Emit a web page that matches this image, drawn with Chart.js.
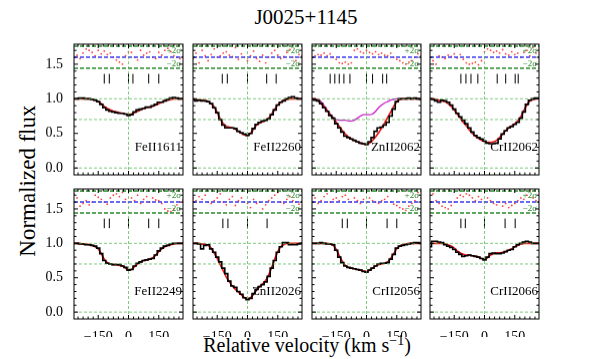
<!DOCTYPE html>
<html>
<head>
<meta charset="utf-8">
<script src="https://cdn.jsdelivr.net/npm/chart.js@4/dist/chart.umd.min.js"></script>
<style>
body { margin: 0; background: #fff; width: 598px; height: 359px; position: relative; overflow: hidden; font-family: "Liberation Serif", "Times New Roman", serif; }
canvas { position: absolute; }
.lbl { position: absolute; color: #000; white-space: nowrap; }
</style>
</head>
<body>
<div class="lbl" style="left:206px; width:200px; top:5px; text-align:center; font-size:21px;">J0025+1145</div>
<div class="lbl" style="left:28px; top:181px; font-size:23px; transform:translate(-50%,-50%) rotate(-90deg);">Normalized flux</div>
<div class="lbl" style="left:307px; top:345px; font-size:20px; transform:translate(-50%,-50%);">Relative velocity (km s<sup style="font-size:14px">&minus;1</sup>)</div>

<script>
// velocity grid (km/s)
const vel = [-270, -255, -240, -225, -210, -195, -180, -165, -150, -135, -120, -105, -90, -75, -60, -45, -30, -15, 0,
             15, 30, 45, 60, 75, 90, 105, 120, 135, 150, 165, 180, 195, 210, 225, 240, 255, 270];

const names = ['FeII1611', 'FeII2260', 'ZnII2062', 'CrII2062', 'FeII2249', 'ZnII2026', 'CrII2056', 'CrII2066'];

// observed normalized flux
const flux1 = [1.0, 1.0, 1.01, 1.01, 1.0, 1.0, 0.99, 0.98, 0.96, 0.92, 0.87, 0.84, 0.82, 0.81, 0.80, 0.79, 0.79, 0.78, 0.76,
               0.77, 0.81, 0.84, 0.85, 0.86, 0.88, 0.88, 0.90, 0.92, 0.95, 0.95, 0.97, 0.99, 1.01, 1.02, 1.01, 1.0, 1.0];
const flux2 = [0.99, 0.97, 0.98, 0.97, 0.97, 0.96, 0.93, 0.87, 0.80, 0.70, 0.62, 0.58, 0.58, 0.58, 0.57, 0.53, 0.51, 0.49, 0.47,
               0.50, 0.57, 0.63, 0.66, 0.68, 0.69, 0.71, 0.77, 0.84, 0.91, 0.95, 0.97, 1.0, 1.02, 1.03, 1.01, 1.0, 1.0];
const flux3 = [0.99, 0.98, 0.97, 0.93, 0.87, 0.82, 0.76, 0.72, 0.64, 0.58, 0.52, 0.46, 0.44, 0.42, 0.40, 0.38, 0.36, 0.35, 0.34,
               0.38, 0.44, 0.53, 0.58, 0.59, 0.62, 0.66, 0.75, 0.85, 0.96, 1.0, 1.0, 1.0, 1.01, 1.0, 1.01, 1.0, 0.99];
const flux4 = [1.0, 0.99, 0.97, 0.95, 0.98, 0.97, 0.95, 0.91, 0.85, 0.79, 0.74, 0.69, 0.64, 0.58, 0.52, 0.47, 0.44, 0.42, 0.39,
               0.36, 0.35, 0.35, 0.36, 0.42, 0.49, 0.54, 0.58, 0.60, 0.63, 0.66, 0.72, 0.81, 0.92, 0.98, 1.0, 1.01, 1.01];
const flux5 = [1.0, 1.0, 0.99, 0.99, 0.98, 0.98, 0.97, 0.96, 0.93, 0.85, 0.75, 0.71, 0.70, 0.69, 0.69, 0.69, 0.67, 0.65, 0.61,
               0.62, 0.67, 0.71, 0.73, 0.75, 0.76, 0.77, 0.78, 0.83, 0.89, 0.93, 0.96, 0.97, 0.99, 1.0, 1.0, 1.0, 1.0];
const flux6 = [1.0, 1.0, 0.99, 0.92, 0.97, 0.98, 0.92, 0.87, 0.80, 0.73, 0.64, 0.56, 0.45, 0.38, 0.36, 0.30, 0.26, 0.21, 0.18,
               0.20, 0.27, 0.33, 0.37, 0.40, 0.44, 0.52, 0.64, 0.75, 0.87, 0.95, 1.01, 1.01, 0.98, 0.98, 0.98, 0.99, 1.0];
const flux7 = [1.0, 1.0, 1.0, 1.01, 1.0, 0.99, 0.99, 0.98, 0.90, 0.80, 0.72, 0.67, 0.65, 0.64, 0.63, 0.62, 0.61, 0.59, 0.58,
               0.61, 0.64, 0.67, 0.70, 0.71, 0.71, 0.72, 0.77, 0.84, 0.93, 0.96, 0.97, 0.98, 0.99, 1.0, 1.01, 1.01, 1.0];
const flux8 = [0.95, 1.03, 1.03, 1.02, 1.01, 0.98, 0.96, 0.94, 0.91, 0.87, 0.84, 0.81, 0.82, 0.83, 0.82, 0.81, 0.80, 0.78, 0.76,
               0.80, 0.85, 0.86, 0.85, 0.85, 0.86, 0.88, 0.90, 0.91, 0.95, 0.98, 1.0, 1.02, 1.03, 1.02, 1.0, 1.0, 1.0];

// fitted profiles
const model1 = [1.0, 1.0, 1.0, 1.0, 1.0, 1.0, 0.99, 0.98, 0.96, 0.93, 0.89, 0.86, 0.84, 0.82, 0.81, 0.80, 0.79, 0.78, 0.775,
                0.78, 0.80, 0.82, 0.84, 0.86, 0.87, 0.88, 0.89, 0.91, 0.93, 0.95, 0.97, 0.98, 0.99, 1.0, 1.0, 1.0, 1.0];
const model2 = [1.0, 0.99, 0.98, 0.98, 0.97, 0.96, 0.93, 0.88, 0.80, 0.71, 0.64, 0.60, 0.59, 0.58, 0.56, 0.53, 0.50, 0.48, 0.47,
                0.50, 0.56, 0.62, 0.65, 0.67, 0.69, 0.72, 0.78, 0.85, 0.91, 0.95, 0.98, 0.99, 1.0, 1.0, 1.0, 1.0, 1.0];
const model3 = [1.0, 1.0, 0.97, 0.93, 0.88, 0.83, 0.77, 0.72, 0.66, 0.60, 0.54, 0.49, 0.45, 0.42, 0.40, 0.38, 0.36, 0.35, 0.34,
                0.36, 0.40, 0.45, 0.51, 0.58, 0.65, 0.73, 0.81, 0.89, 0.96, 0.99, 1.0, 1.0, 1.0, 1.0, 1.0, 1.0, 1.0];
const model4 = [1.0, 1.0, 0.99, 0.98, 0.97, 0.96, 0.93, 0.89, 0.84, 0.78, 0.72, 0.66, 0.61, 0.55, 0.50, 0.46, 0.43, 0.40, 0.38,
                0.37, 0.37, 0.38, 0.40, 0.44, 0.49, 0.54, 0.58, 0.61, 0.64, 0.68, 0.74, 0.83, 0.91, 0.97, 0.99, 1.0, 1.0];
const model5 = [1.0, 1.0, 1.0, 0.99, 0.99, 0.98, 0.97, 0.95, 0.92, 0.85, 0.77, 0.72, 0.70, 0.69, 0.69, 0.68, 0.67, 0.64, 0.61,
                0.62, 0.66, 0.70, 0.73, 0.75, 0.76, 0.77, 0.79, 0.83, 0.88, 0.92, 0.95, 0.97, 0.98, 0.99, 1.0, 1.0, 1.0];
const model6 = [1.0, 1.0, 1.0, 0.99, 0.99, 0.97, 0.93, 0.86, 0.78, 0.69, 0.60, 0.51, 0.44, 0.38, 0.33, 0.29, 0.25, 0.21, 0.19,
                0.21, 0.26, 0.32, 0.37, 0.41, 0.46, 0.54, 0.65, 0.77, 0.88, 0.95, 0.98, 1.0, 1.0, 1.0, 1.0, 1.0, 1.0];
const model7 = [1.0, 1.0, 1.0, 1.0, 1.0, 1.0, 0.99, 0.97, 0.91, 0.82, 0.74, 0.68, 0.65, 0.64, 0.63, 0.62, 0.61, 0.60, 0.59,
                0.61, 0.64, 0.67, 0.69, 0.70, 0.71, 0.73, 0.78, 0.85, 0.92, 0.96, 0.98, 0.99, 1.0, 1.0, 1.0, 1.0, 1.0];
const model8 = [1.0, 1.0, 1.0, 1.0, 1.0, 0.99, 0.98, 0.96, 0.93, 0.89, 0.86, 0.84, 0.83, 0.83, 0.82, 0.81, 0.80, 0.78, 0.77,
                0.79, 0.83, 0.85, 0.86, 0.86, 0.87, 0.88, 0.90, 0.92, 0.95, 0.97, 0.99, 1.0, 1.0, 1.0, 1.0, 1.0, 1.0];
// ZnII-only contribution in the ZnII2062 panel
const znOnly3 = [1.0, 1.0, 0.99, 0.96, 0.90, 0.84, 0.78, 0.73, 0.70, 0.69, 0.69, 0.69, 0.68, 0.68, 0.69, 0.72, 0.75, 0.77, 0.77,
                 0.77, 0.78, 0.82, 0.87, 0.91, 0.94, 0.96, 0.98, 0.99, 1.0, 1.0, 1.0, 1.0, 1.0, 1.0, 1.0, 1.0, 1.0];

// residuals, plotted around 1.6
const resid1 = [1.60, 1.63, 1.58, 1.66, 1.72, 1.70, 1.67, 1.62, 1.70, 1.65, 1.69, 1.64, 1.66, 1.60, 1.56, 1.53, 1.50, 1.62, 1.68,
                1.67, 1.60, 1.56, 1.70, 1.63, 1.66, 1.68, 1.60, 1.58, 1.67, 1.63, 1.70, 1.73, 1.68, 1.62, 1.60, 1.58, 1.61];
const resid2 = [1.58, 1.66, 1.52, 1.70, 1.62, 1.55, 1.64, 1.72, 1.60, 1.62, 1.66, 1.68, 1.63, 1.61, 1.74, 1.57, 1.65, 1.60, 1.55,
                1.62, 1.69, 1.58, 1.54, 1.63, 1.52, 1.60, 1.66, 1.70, 1.63, 1.58, 1.61, 1.67, 1.71, 1.60, 1.55, 1.64, 1.62];
const resid3 = [1.60, 1.62, 1.64, 1.63, 1.66, 1.62, 1.65, 1.60, 1.57, 1.52, 1.51, 1.53, 1.50, 1.52, 1.70, 1.72, 1.68, 1.66, 1.70,
                1.67, 1.65, 1.68, 1.64, 1.66, 1.63, 1.62, 1.66, 1.60, 1.57, 1.55, 1.52, 1.50, 1.53, 1.55, 1.60, 1.65, 1.62];
const resid4 = [1.60, 1.55, 1.50, 1.62, 1.60, 1.58, 1.63, 1.61, 1.65, 1.59, 1.64, 1.57, 1.52, 1.50, 1.51, 1.53, 1.49, 1.55, 1.68,
                1.72, 1.70, 1.67, 1.69, 1.66, 1.71, 1.65, 1.63, 1.68, 1.64, 1.66, 1.60, 1.67, 1.70, 1.62, 1.74, 1.66, 1.60];
const resid5 = [1.72, 1.66, 1.54, 1.58, 1.62, 1.56, 1.60, 1.70, 1.67, 1.64, 1.60, 1.57, 1.66, 1.70, 1.72, 1.68, 1.74, 1.64, 1.60,
                1.66, 1.62, 1.70, 1.58, 1.64, 1.68, 1.60, 1.66, 1.63, 1.62, 1.58, 1.50, 1.47, 1.46, 1.50, 1.56, 1.60, 1.63];
const resid6 = [1.66, 1.62, 1.68, 1.64, 1.70, 1.60, 1.58, 1.62, 1.66, 1.72, 1.60, 1.56, 1.64, 1.68, 1.55, 1.62, 1.66, 1.60, 1.58,
                1.52, 1.64, 1.58, 1.60, 1.50, 1.56, 1.62, 1.66, 1.70, 1.74, 1.60, 1.58, 1.64, 1.68, 1.62, 1.60, 1.57, 1.61];
const resid7 = [1.70, 1.66, 1.58, 1.62, 1.68, 1.72, 1.60, 1.64, 1.66, 1.62, 1.68, 1.70, 1.64, 1.60, 1.66, 1.62, 1.58, 1.64, 1.60,
                1.66, 1.62, 1.60, 1.58, 1.62, 1.64, 1.68, 1.60, 1.57, 1.55, 1.52, 1.50, 1.48, 1.54, 1.58, 1.62, 1.74, 1.66];
const resid8 = [1.60, 1.72, 1.62, 1.58, 1.54, 1.52, 1.50, 1.55, 1.60, 1.66, 1.70, 1.68, 1.72, 1.70, 1.66, 1.62, 1.68, 1.64, 1.60,
                1.66, 1.62, 1.58, 1.56, 1.60, 1.54, 1.58, 1.52, 1.55, 1.58, 1.62, 1.66, 1.64, 1.70, 1.76, 1.66, 1.62, 1.60];

// component velocities (tick marks)
const marks1 = [-120, -95, 0, 22, 100, 150];
const marks2 = [-125, -100, 0, 95, 142];
const marks3 = [-180, -157, -135, -112, -82, 0, 30, 80, 100];
const marks4 = [-117, -92, -67, -33, 63, 105, 152, 167];
const marks5 = [-120, -95, 0, 100, 150];
const marks6 = [-122, -97, 0, 97];
const marks7 = [-120, -95, 0, 102, 150];
const marks8 = [-117, -95, 0, 102, 152];

// axis ticks
const xTickLabels = [-150, 0, 150];
const yTickLabels = [0, 0.5, 1.0, 1.5];
const xMinor = [-250, -225, -200, -175, -150, -125, -100, -75, -50, -25, 0, 25, 50, 75, 100, 125, 150, 175, 200, 225, 250];
const yMinor = [0, 0.1, 0.2, 0.3, 0.4, 0.5, 0.6, 0.7, 0.8, 0.9, 1.0, 1.1, 1.2, 1.3, 1.4, 1.5, 1.6, 1.7];

// reference levels
const thinLevels = [0, 0.7, 1.0];
const sigmaLevels = [1.44, 1.76];
const residZero = 1.6;
const markLevel = 1.29;

const allFlux = [flux1, flux2, flux3, flux4, flux5, flux6, flux7, flux8];
const allModel = [model1, model2, model3, model4, model5, model6, model7, model8];
const allResid = [resid1, resid2, resid3, resid4, resid5, resid6, resid7, resid8];
const allMarks = [marks1, marks2, marks3, marks4, marks5, marks6, marks7, marks8];

const X_MIN = -270, X_MAX = 270, Y_MIN = -0.1, Y_MAX = 1.79;
const colLeft = [74, 192.8, 311.6, 430.4];
const rowTop = [44, 188.5];
const plotW = 109, plotH = 130.5, pad = 12, yAxisW = 30, xAxisH = 18;

const serif = '"Liberation Serif", "Times New Roman", serif';

// frame, inward ticks and in-panel texts
const framePlugin = {
    id: 'frame',
    afterDatasetsDraw(chart, args, opts) {
        const ctx = chart.ctx;
        const a = chart.chartArea;
        const x = chart.scales.x, y = chart.scales.y;
        ctx.save();
        ctx.fillStyle = '#2a8a2a';
        ctx.font = '9px ' + serif;
        ctx.textAlign = 'right';
        ctx.textBaseline = 'middle';
        ctx.fillText('+2\u03c3', a.right - 2, y.getPixelForValue(1.70));
        ctx.fillText('\u22122\u03c3', a.right - 2, y.getPixelForValue(1.50));
        ctx.fillStyle = '#000';
        ctx.font = '13px ' + serif;
        ctx.fillText(opts.name, a.right - 1, y.getPixelForValue(0.30));

        ctx.strokeStyle = '#000';
        ctx.lineWidth = 1;
        ctx.strokeRect(a.left, a.top, a.right - a.left, a.bottom - a.top);
        ctx.beginPath();
        xMinor.forEach(v => {
            const px = x.getPixelForValue(v);
            const len = (v % 150 === 0) ? 4 : 2.5;
            ctx.moveTo(px, a.bottom); ctx.lineTo(px, a.bottom - len);
            ctx.moveTo(px, a.top); ctx.lineTo(px, a.top + len);
        });
        yMinor.forEach(v => {
            const py = y.getPixelForValue(v);
            const len = (Math.round(v * 10) % 5 === 0) ? 4 : 2.5;
            ctx.moveTo(a.left, py); ctx.lineTo(a.left + len, py);
            ctx.moveTo(a.right, py); ctx.lineTo(a.right - len, py);
        });
        ctx.stroke();
        ctx.restore();
    }
};

function hLine(level, color, width, dash) {
    return {
        data: [{ x: X_MIN, y: level }, { x: X_MAX, y: level }],
        borderColor: color, borderWidth: width, borderDash: dash, pointRadius: 0
    };
}

function makePanel(i) {
    const col = i % 4, row = Math.floor(i / 4);
    const leftCol = col === 0, bottomRow = row === 1;
    const yW = leftCol ? yAxisW : 0;
    const xH = bottomRow ? xAxisH : 0;

    const canvas = document.createElement('canvas');
    const w = plotW + 2 * pad + yW, h = plotH + 2 * pad + xH;
    canvas.width = w; canvas.height = h;
    canvas.style.width = w + 'px'; canvas.style.height = h + 'px';
    canvas.style.left = (colLeft[col] - pad - yW) + 'px';
    canvas.style.top = (rowTop[row] - pad) + 'px';
    document.body.appendChild(canvas);

    const datasets = [];
    thinLevels.forEach(l => datasets.push(hLine(l, 'rgba(70,175,70,0.85)', 0.8, [3, 2])));
    datasets.push({
        data: [{ x: 0, y: Y_MIN }, { x: 0, y: Y_MAX }],
        borderColor: 'rgba(70,175,70,0.85)', borderWidth: 0.8, borderDash: [3, 2], pointRadius: 0
    });
    sigmaLevels.forEach(l => datasets.push(hLine(l, '#2a8a2a', 1.5, [4, 2])));
    datasets.push(hLine(residZero, '#3a3af0', 1.5, [4, 2]));

    datasets.push({
        data: vel.map((v, k) => ({ x: v, y: allResid[i][k] })),
        showLine: false, pointRadius: 0.9, pointBorderWidth: 0,
        pointBackgroundColor: 'rgba(255,50,50,0.9)', borderColor: 'rgba(255,50,50,0.9)'
    });
    datasets.push({
        data: allMarks[i].map(v => ({ x: v, y: markLevel })),
        showLine: false, pointStyle: 'line', rotation: 90, pointRadius: 4.8,
        pointBorderColor: '#000', pointBorderWidth: 1, borderColor: '#000'
    });
    datasets.push({
        data: vel.map((v, k) => ({ x: v, y: allFlux[i][k] })),
        stepped: 'middle', borderColor: '#000', borderWidth: 1.6, pointRadius: 0
    });
    datasets.push({
        data: vel.map((v, k) => ({ x: v, y: allModel[i][k] })),
        borderColor: '#f01818', borderWidth: 1.7, pointRadius: 0, cubicInterpolationMode: 'monotone'
    });
    if (i === 2) {
        datasets.push({
            data: vel.map((v, k) => ({ x: v, y: znOnly3[k] })),
            borderColor: '#cc22cc', borderWidth: 1.3, pointRadius: 0, cubicInterpolationMode: 'monotone'
        });
    }

    new Chart(canvas, {
        type: 'line',
        data: { datasets },
        plugins: [framePlugin],
        options: {
            responsive: false,
            animation: false,
            devicePixelRatio: 1,
            layout: { padding: pad },
            plugins: { legend: { display: false }, tooltip: { enabled: false }, frame: { name: names[i] } },
            scales: {
                x: {
                    type: 'linear', min: X_MIN, max: X_MAX,
                    grid: { display: false }, border: { display: false },
                    afterBuildTicks: s => { s.ticks = xTickLabels.map(v => ({ value: v })); },
                    afterFit: s => { s.height = xH; },
                    ticks: {
                        display: bottomRow, padding: 2, color: '#000', font: { family: serif, size: 14 },
                        callback: v => (v < 0 ? '\u2212' + Math.abs(v) : String(v))
                    }
                },
                y: {
                    min: Y_MIN, max: Y_MAX,
                    grid: { display: false }, border: { display: false },
                    afterBuildTicks: s => { s.ticks = yTickLabels.map(v => ({ value: v })); },
                    afterFit: s => { s.width = yW; },
                    ticks: {
                        display: leftCol, padding: 3, color: '#000', font: { family: serif, size: 14 },
                        callback: v => Number(v).toFixed(1)
                    }
                }
            }
        }
    });
}

for (let i = 0; i < 8; i++) makePanel(i);
</script>
</body>
</html>
